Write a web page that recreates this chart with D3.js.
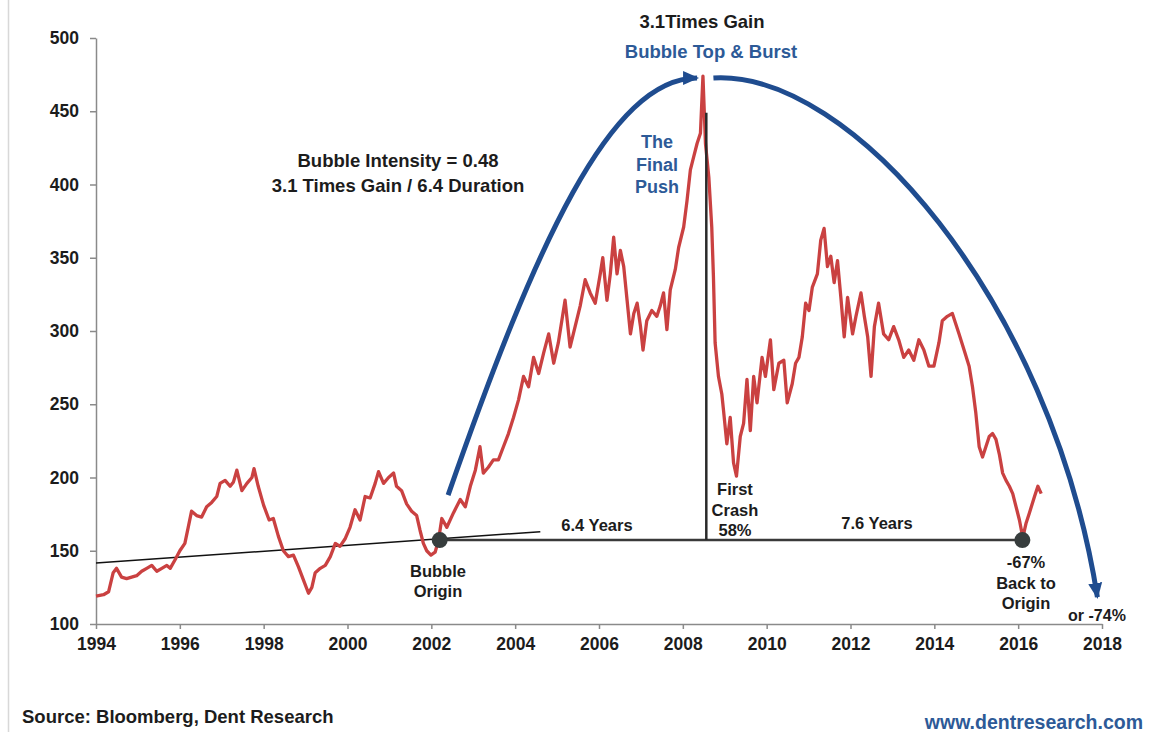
<!DOCTYPE html>
<html lang="en"><head><meta charset="utf-8">
<script src="https://d3js.org/d3.v7.min.js"></script>
<style>
  body { margin: 0; background: #fff; }
  #chart { position: absolute; left: 0; top: 0; width: 1150px; height: 732px; }
  text { font-family: "Liberation Sans", Arial, sans-serif; font-weight: bold; }
</style>
</head>
<body>
<div id="chart"></div>
<script>
// price series (decimal year, index level)
const years = [
  1994.00, 1994.18, 1994.30, 1994.41, 1994.49, 1994.61, 1994.73, 1994.85, 1994.97, 1995.09,
  1995.21, 1995.33, 1995.45, 1995.57, 1995.69, 1995.77, 1995.89, 1996.00, 1996.12, 1996.20,
  1996.28, 1996.40, 1996.52, 1996.64, 1996.76, 1996.88, 1996.96, 1997.08, 1997.20, 1997.28,
  1997.36, 1997.48, 1997.60, 1997.72, 1997.77, 1997.87, 1998.00, 1998.13, 1998.23, 1998.35,
  1998.47, 1998.59, 1998.71, 1998.83, 1998.95, 1999.07, 1999.15, 1999.23, 1999.35, 1999.47,
  1999.59, 1999.71, 1999.82, 1999.94, 2000.06, 2000.18, 2000.30, 2000.42, 2000.54, 2000.66,
  2000.74, 2000.86, 2000.98, 2001.10, 2001.17, 2001.29, 2001.41, 2001.53, 2001.65, 2001.73,
  2001.81, 2001.89, 2001.99, 2002.09, 2002.17, 2002.25, 2002.37, 2002.53, 2002.69, 2002.81,
  2002.93, 2003.05, 2003.16, 2003.24, 2003.36, 2003.48, 2003.60, 2003.72, 2003.84, 2003.96,
  2004.08, 2004.20, 2004.32, 2004.44, 2004.56, 2004.68, 2004.80, 2004.92, 2005.03, 2005.19,
  2005.31, 2005.43, 2005.55, 2005.67, 2005.79, 2005.91, 2006.03, 2006.09, 2006.19, 2006.27,
  2006.35, 2006.43, 2006.51, 2006.59, 2006.67, 2006.75, 2006.83, 2006.91, 2006.99, 2007.05,
  2007.14, 2007.26, 2007.38, 2007.46, 2007.54, 2007.62, 2007.70, 2007.82, 2007.90, 2008.02,
  2008.10, 2008.18, 2008.26, 2008.34, 2008.42, 2008.48, 2008.54, 2008.62, 2008.69, 2008.73,
  2008.77, 2008.85, 2008.93, 2008.97, 2009.05, 2009.13, 2009.21, 2009.28, 2009.37, 2009.45,
  2009.53, 2009.61, 2009.69, 2009.77, 2009.89, 2009.97, 2010.09, 2010.17, 2010.29, 2010.41,
  2010.49, 2010.61, 2010.69, 2010.77, 2010.85, 2010.93, 2011.01, 2011.09, 2011.21, 2011.29,
  2011.37, 2011.45, 2011.53, 2011.61, 2011.69, 2011.77, 2011.85, 2011.93, 2012.05, 2012.13,
  2012.25, 2012.33, 2012.41, 2012.49, 2012.57, 2012.67, 2012.79, 2012.91, 2013.03, 2013.15,
  2013.27, 2013.39, 2013.51, 2013.63, 2013.75, 2013.87, 2013.99, 2014.11, 2014.19, 2014.31,
  2014.43, 2014.51, 2014.59, 2014.71, 2014.83, 2014.91, 2014.99, 2015.07, 2015.15, 2015.23,
  2015.31, 2015.39, 2015.47, 2015.55, 2015.63, 2015.71, 2015.79, 2015.87, 2015.95, 2016.03,
  2016.11, 2016.19, 2016.27, 2016.39, 2016.47, 2016.55
];
const prices = [
  119, 120, 122, 135, 138, 132, 131, 132, 133, 136,
  138, 140, 136, 138, 140, 138, 144, 150, 155, 166,
  177, 174, 173, 180, 183, 187, 196, 198, 194, 197,
  205, 191, 196, 200, 206, 194, 181, 171, 172, 160,
  150, 146, 147, 139, 130, 121, 125, 135, 138, 140,
  146, 155, 153, 158, 166, 178, 171, 187, 186, 196,
  204, 196, 200, 203, 194, 191, 182, 177, 174, 164,
  155, 150, 147, 149, 157, 172, 166, 176, 185, 180,
  194, 205, 221, 203, 207, 212, 212, 221, 230, 241,
  253, 269, 262, 282, 271, 285, 298, 278, 292, 321,
  289, 303, 317, 335, 326, 319, 339, 350, 321, 339,
  364, 339, 355, 344, 321, 298, 312, 319, 303, 287,
  307, 314, 310, 317, 326, 301, 328, 342, 357, 371,
  389, 410, 419, 428, 435, 474, 428, 405, 371, 337,
  292, 269, 257, 246, 223, 241, 210, 201, 228, 237,
  267, 232, 269, 251, 282, 269, 294, 260, 278, 280,
  251, 264, 278, 282, 296, 319, 314, 330, 339, 362,
  370, 344, 351, 333, 348, 323, 296, 323, 298, 310,
  326, 310, 296, 269, 303, 319, 298, 294, 303, 294,
  282, 287, 280, 294, 287, 276, 276, 292, 307, 310,
  312, 305, 298, 287, 276, 262, 244, 221, 214, 221,
  228, 230, 226, 216, 203, 198, 194, 189, 180, 171,
  159, 169, 176, 187, 194, 189
];

const xTicks = [1994, 1996, 1998, 2000, 2002, 2004, 2006, 2008, 2010, 2012, 2014, 2016, 2018];
const yTicks = [100, 150, 200, 250, 300, 350, 400, 450, 500];

// annotation anchors (data coordinates)
const trendYears = [1994, 2004.6];
const trendValues = [141.6, 163];
const originYear = 2002.2;
const backYear = 2016.1;
const originLevel = 157.3;
const peakLineYear = 2008.56;
const peakLineTop = 449;
// cubic bezier arrows: start, control 1, control 2, end
const pushArrowYears = [2002.40, 2004.48, 2006.27, 2008.34];
const pushArrowValues = [188, 358.7, 472.7, 472.7];
const burstArrowYears = [2008.73, 2012.0, 2016.77, 2017.89];
const burstArrowValues = [472.7, 478.2, 321.2, 118.4];

const width = 1150, height = 732;
const x = d3.scaleLinear([1994, 2018], [96, 1102]);
const y = d3.scaleLinear([100, 500], [624, 38]);

const ink = "#1c1c1c", blue = "#1f4c8f", blueText = "#2d5a97", red = "#ca4141";

const svg = d3.select("#chart").append("svg")
  .attr("width", width).attr("height", height)
  .attr("viewBox", [0, 0, width, height]);

// faint frame line on the left edge
svg.append("line").attr("x1", 8.5).attr("x2", 8.5).attr("y1", 0).attr("y2", height)
  .attr("stroke", "#d8d8d8").attr("stroke-width", 1.5);

svg.append("defs").append("marker")
  .attr("id", "head")
  .attr("viewBox", "0 -8 16 16")
  .attr("refX", 14).attr("refY", 0)
  .attr("markerUnits", "userSpaceOnUse")
  .attr("markerWidth", 16).attr("markerHeight", 16)
  .attr("orient", "auto")
  .append("path").attr("d", "M0,-7L16,0L0,7Z").attr("fill", blue);

// axes
const xAxis = svg.append("g")
  .attr("transform", `translate(0,${y(100)})`)
  .call(d3.axisBottom(x).tickValues(xTicks).tickFormat(d3.format("d")).tickSize(5).tickSizeOuter(0).tickPadding(9));
const yAxis = svg.append("g")
  .attr("transform", `translate(${x(1994)},0)`)
  .call(d3.axisLeft(y).tickValues(yTicks).tickSize(6).tickSizeOuter(0).tickPadding(11));
[xAxis, yAxis].forEach(g => {
  g.select(".domain").attr("stroke", "#8a8a8a").attr("stroke-width", 1.5);
  g.selectAll(".tick line").attr("stroke", "#8a8a8a").attr("stroke-width", 1.5);
  g.selectAll(".tick text").attr("fill", ink).style("font-size", "17.5px")
    .style("font-family", "'Liberation Sans', Arial, sans-serif").style("font-weight", "bold");
});

// trend line through the earlier lows
svg.append("line")
  .attr("x1", x(trendYears[0])).attr("y1", y(trendValues[0]))
  .attr("x2", x(trendYears[1])).attr("y2", y(trendValues[1]))
  .attr("stroke", "#111").attr("stroke-width", 1.5);

// price line
const line = d3.line()
  .x((d, i) => x(years[i]))
  .y(d => y(d));
svg.append("path")
  .attr("fill", "none")
  .attr("stroke", red)
  .attr("stroke-width", 3.3)
  .attr("stroke-linejoin", "round")
  .attr("d", line(prices));

// horizontal origin level and vertical top marker
svg.append("line")
  .attr("x1", x(originYear)).attr("x2", x(backYear))
  .attr("y1", y(originLevel)).attr("y2", y(originLevel))
  .attr("stroke", "#3a3a3a").attr("stroke-width", 2.5);
svg.append("line")
  .attr("x1", x(peakLineYear)).attr("x2", x(peakLineYear))
  .attr("y1", y(peakLineTop)).attr("y2", y(originLevel))
  .attr("stroke", "#2a2a2a").attr("stroke-width", 2.5);

svg.selectAll(".dot").data([originYear, backYear]).join("circle")
  .attr("cx", d => x(d)).attr("cy", y(originLevel)).attr("r", 8)
  .attr("fill", "#373d3d");

// blue arrows
function bezier(xs, vs) {
  const p = d3.path();
  const P = xs.map((d, i) => [x(d), y(vs[i])]);
  p.moveTo(P[0][0], P[0][1]);
  p.bezierCurveTo(P[1][0], P[1][1], P[2][0], P[2][1], P[3][0], P[3][1]);
  return p.toString();
}
svg.append("path")
  .attr("d", bezier(pushArrowYears, pushArrowValues))
  .attr("fill", "none").attr("stroke", blue).attr("stroke-width", 5)
  .attr("marker-end", "url(#head)");
svg.append("path")
  .attr("d", bezier(burstArrowYears, burstArrowValues))
  .attr("fill", "none").attr("stroke", blue).attr("stroke-width", 5)
  .attr("marker-end", "url(#head)");

// text annotations
function label(lines, cx, baseline, opts = {}) {
  const t = svg.append("text")
    .attr("text-anchor", opts.anchor || "middle")
    .attr("fill", opts.color || ink)
    .style("font-size", (opts.size || 16.5) + "px");
  lines.forEach((s, i) => {
    t.append("tspan").attr("x", cx).attr("y", baseline + i * (opts.lh || 21)).text(s);
  });
  return t;
}

label(["3.1Times Gain"], 702, 28, { size: 18.5 });
label(["Bubble Top & Burst"], 711, 58, { size: 18.5, color: blueText });
label(["The", "Final", "Push"], 657, 148, { size: 18, color: blueText, lh: 22.5 });
label(["Bubble Intensity = 0.48", "3.1 Times Gain / 6.4 Duration"], 398, 167, { size: 18.5, lh: 25 });
label(["6.4 Years"], 597, 531);
label(["7.6 Years"], 877, 529);
label(["First", "Crash", "58%"], 735, 495, { lh: 20.5 });
label(["Bubble", "Origin"], 438, 577, { lh: 20 });
label(["-67%", "Back to", "Origin"], 1026, 568, { lh: 20.5 });
label(["or -74%"], 1097, 621, { size: 16 });
label(["Source: Bloomberg, Dent Research"], 22, 723, { size: 18.5, anchor: "start" });
label(["www.dentresearch.com"], 1143, 729, { size: 19.5, anchor: "end", color: blueText });
</script>
</body>
</html>
